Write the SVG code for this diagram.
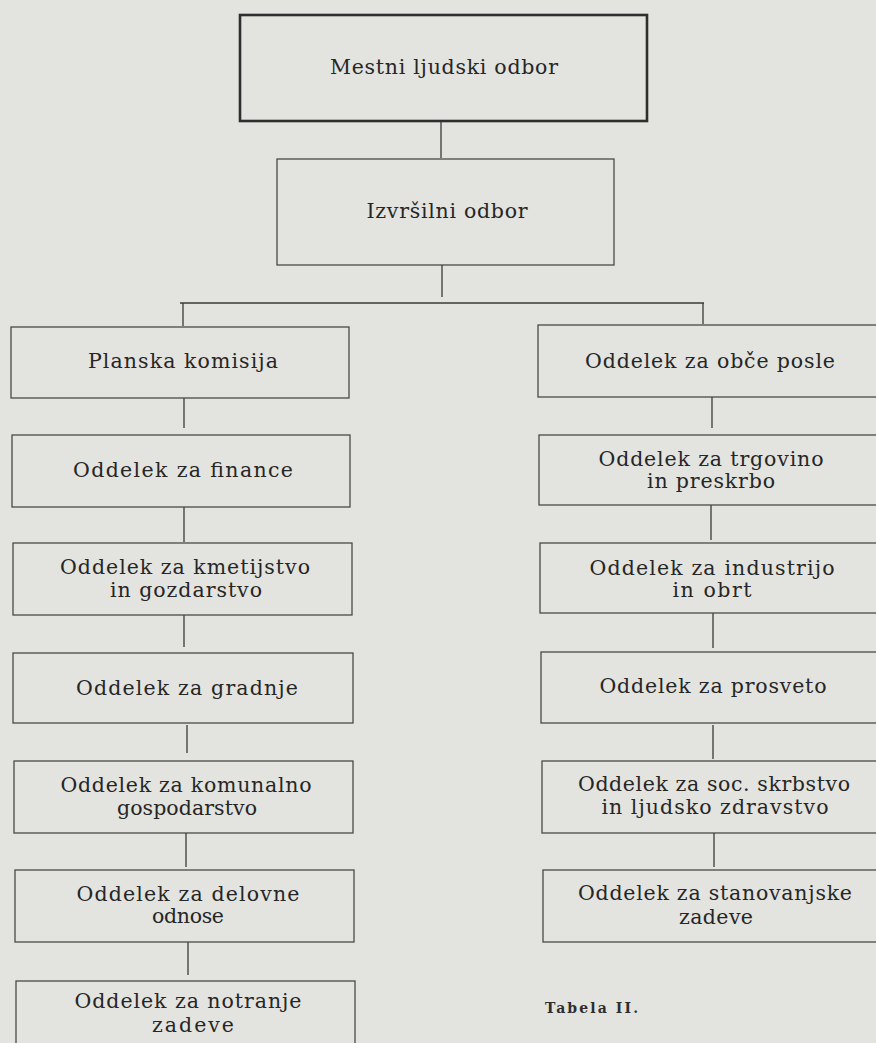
<svg xmlns="http://www.w3.org/2000/svg" width="876" height="1043" viewBox="0 0 876 1043">
<style>
.bg{fill:#e3e3df}
.box{fill:none;stroke:#4a4a4a;stroke-width:1.3}
.main{fill:none;stroke:#2e2e2e;stroke-width:2.6}
.t{font-family:"DejaVu Serif","Liberation Serif",serif;font-size:20.5px;fill:#262626;text-anchor:middle}
.cap{font-family:"DejaVu Serif","Liberation Serif",serif;font-size:14px;font-weight:bold;fill:#2e2e2e}
.c{stroke:#3a3a3a;stroke-width:1.3;fill:none}
</style>
<rect class="bg" x="0" y="0" width="876" height="1043"/>
<g id="connectors">
<line class="c" x1="441" y1="121" x2="441" y2="158"/>
<line class="c" x1="442" y1="265" x2="442" y2="297"/>
<line class="c" x1="180" y1="303" x2="704" y2="303"/>
<line class="c" x1="183" y1="303" x2="183" y2="326"/>
<line class="c" x1="703" y1="303" x2="703" y2="324"/>
<line class="c" x1="184" y1="398" x2="184" y2="428"/>
<line class="c" x1="184" y1="507" x2="184" y2="542"/>
<line class="c" x1="184" y1="615" x2="184" y2="647"/>
<line class="c" x1="187" y1="725" x2="187" y2="753"/>
<line class="c" x1="186" y1="833" x2="186" y2="867"/>
<line class="c" x1="188" y1="942" x2="188" y2="975"/>
<line class="c" x1="712" y1="397" x2="712" y2="428"/>
<line class="c" x1="711" y1="505" x2="711" y2="540"/>
<line class="c" x1="713" y1="613" x2="713" y2="648"/>
<line class="c" x1="713" y1="725" x2="713" y2="759"/>
<line class="c" x1="714" y1="833" x2="714" y2="867"/>
</g>
<g id="mestni">
<rect class="main" x="240" y="15" width="407" height="106"/>
<text class="t" x="444" y="74" textLength="228" lengthAdjust="spacing">Mestni ljudski odbor</text>
</g>
<g id="izvrsilni">
<rect class="box" x="277" y="159" width="337" height="106"/>
<text class="t" x="447" y="218" textLength="161" lengthAdjust="spacing">Izvršilni odbor</text>
</g>
<g id="planska">
<rect class="box" x="11" y="327" width="338" height="71"/>
<text class="t" x="183" y="368" textLength="190" lengthAdjust="spacing">Planska komisija</text>
</g>
<g id="finance">
<rect class="box" x="12" y="435" width="338" height="72"/>
<text class="t" x="183" y="477" textLength="220" lengthAdjust="spacing">Oddelek za finance</text>
</g>
<g id="kmetijstvo">
<rect class="box" x="13" y="543" width="339" height="72"/>
<text class="t" x="185" y="574" textLength="250" lengthAdjust="spacing">Oddelek za kmetijstvo</text>
<text class="t" x="186" y="597" textLength="152" lengthAdjust="spacing">in gozdarstvo</text>
</g>
<g id="gradnje">
<rect class="box" x="13" y="653" width="340" height="70"/>
<text class="t" x="187" y="695" textLength="222" lengthAdjust="spacing">Oddelek za gradnje</text>
</g>
<g id="komunalno">
<rect class="box" x="14" y="761" width="339" height="72"/>
<text class="t" x="186" y="792" textLength="251" lengthAdjust="spacing">Oddelek za komunalno</text>
<text class="t" x="187" y="815" textLength="140" lengthAdjust="spacing">gospodarstvo</text>
</g>
<g id="delovne">
<rect class="box" x="15" y="870" width="339" height="72"/>
<text class="t" x="188" y="901" textLength="223" lengthAdjust="spacing">Oddelek za delovne</text>
<text class="t" x="188" y="923" textLength="72" lengthAdjust="spacing">odnose</text>
</g>
<g id="notranje">
<rect class="box" x="16" y="981" width="339" height="80"/>
<text class="t" x="188" y="1008" textLength="227" lengthAdjust="spacing">Oddelek za notranje</text>
<text class="t" x="193" y="1032" textLength="82" lengthAdjust="spacing">zadeve</text>
</g>
<g id="obce">
<rect class="box" x="538" y="325" width="346" height="72"/>
<text class="t" x="710" y="368" textLength="250" lengthAdjust="spacing">Oddelek za obče posle</text>
</g>
<g id="trgovino">
<rect class="box" x="539" y="435" width="345" height="70"/>
<text class="t" x="711" y="466" textLength="225" lengthAdjust="spacing">Oddelek za trgovino</text>
<text class="t" x="711" y="488" textLength="128" lengthAdjust="spacing">in preskrbo</text>
</g>
<g id="industrijo">
<rect class="box" x="540" y="543" width="344" height="70"/>
<text class="t" x="712" y="575" textLength="245" lengthAdjust="spacing">Oddelek za industrijo</text>
<text class="t" x="712" y="597" textLength="79" lengthAdjust="spacing">in obrt</text>
</g>
<g id="prosveto">
<rect class="box" x="541" y="652" width="343" height="71"/>
<text class="t" x="713" y="693" textLength="227" lengthAdjust="spacing">Oddelek za prosveto</text>
</g>
<g id="soc">
<rect class="box" x="542" y="761" width="342" height="72"/>
<text class="t" x="714" y="791" textLength="272" lengthAdjust="spacing">Oddelek za soc. skrbstvo</text>
<text class="t" x="715" y="814" textLength="227" lengthAdjust="spacing">in ljudsko zdravstvo</text>
</g>
<g id="stanovanjske">
<rect class="box" x="543" y="870" width="341" height="72"/>
<text class="t" x="715" y="900" textLength="274" lengthAdjust="spacing">Oddelek za stanovanjske</text>
<text class="t" x="716" y="924" textLength="74" lengthAdjust="spacing">zadeve</text>
</g>
<text class="cap" x="545" y="1013" textLength="93" lengthAdjust="spacing">Tabela II.</text>
</svg>
